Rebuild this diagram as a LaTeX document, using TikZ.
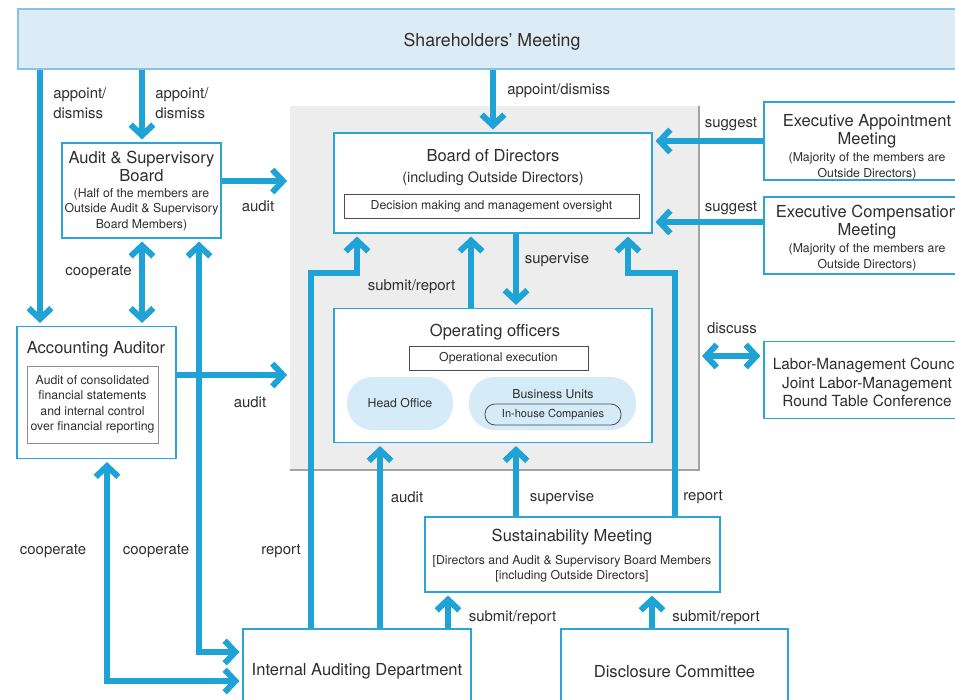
\documentclass[tikz,border=0pt]{standalone}
\usepackage{fontspec}
\setmainfont{TeX Gyre Heros}
\usetikzlibrary{arrows.meta,positioning}

\definecolor{flowblue}{HTML}{1FA3D7}
\definecolor{boxblue}{HTML}{2AA4D9}
\definecolor{shfill}{HTML}{DCEBF6}
\definecolor{shline}{HTML}{86C4E6}
\definecolor{govgray}{HTML}{EDEDED}
\definecolor{govedge}{HTML}{A3A3A3}
\definecolor{txtgray}{HTML}{2E2E2E}
\definecolor{unitfill}{HTML}{D5EBF8}

\newcommand{\fsHead}{\fontsize{13.3}{16}\selectfont}
\newcommand{\fsTitle}{\fontsize{12.4}{13.3}\selectfont}
\newcommand{\fsSub}{\fontsize{10.8}{13}\selectfont}
\newcommand{\fsLabel}{\fontsize{11.2}{15}\selectfont}
\newcommand{\fsLabor}{\fontsize{11.5}{14}\selectfont}
\newcommand{\fsSmall}{\fontsize{9.2}{11.6}\selectfont}
\newcommand{\fsTiny}{\fontsize{8.3}{10}\selectfont}

\tikzset{
  box/.style={draw=boxblue, line width=1.3pt, fill=white, inner sep=0pt, align=center},
  sized/.style 2 args={minimum width=#1*0.75pt, minimum height=#2*0.75pt},
  inbox/.style={draw=black!70, line width=0.6pt, fill=white, inner sep=0pt},
  unit/.style={fill=unitfill, rounded corners=19pt, inner sep=0pt, font=\fsSmall},
  lbl/.style={font=\fsLabel, inner sep=0pt, align=left, yshift=-1.2pt},
  txt/.style={inner sep=0pt, align=center, yshift=-1.2pt},
  barb/.tip={Straight Barb[length=8pt,width=17pt]},
  flow/.style={draw=flowblue, line width=4.5pt, -barb, shorten >=2pt},
  flowboth/.style={flow, barb-barb, shorten <=2pt},
}

\begin{document}
\begin{tikzpicture}[x=0.75pt, y=-0.75pt, every node/.append style={text=txtgray}]
  \useasboundingbox (0,0) rectangle (955,699);
  \clip (0,0) rectangle (955,699);

  % Define nodes
  \node[fill=govgray, sized={409}{364}] (gov) at (494.5,288) {};%
  \draw[govedge, line width=1.2pt] (gov.north east) -- (gov.south east) -- (gov.south west);

  \node[box, fill=shfill, draw=shline, sized={948}{60}] (sh) at (492,39) {};%
  \node[txt, font=\fsHead] (shT) at (492,40) {Shareholders' Meeting};%

  \node[box, sized={159}{95}] (asb) at (141.5,190.5) {};%
  \node[txt, font=\fsTitle] (asbT) at (141.5,165) {Audit \& Supervisory\\Board};%
  \node[txt, font=\fsSmall] (asbS) at (141.5,208) {(Half of the members are\\Outside Audit \& Supervisory\\Board Members)};%

  \node[box, sized={318}{100}] (bod) at (493,183) {};%
  \node[txt, font=\fsTitle] (bodT) at (493,154) {Board of Directors};%
  \node[txt, font=\fsSub] (bodS) at (493,177.5) {(including Outside Directors)};%
  \node[inbox, sized={295}{24}, font=\fsSmall] (dec) at (491.5,206) {Decision making and management oversight};%

  \node[box, sized={318}{134}] (oo) at (493,375.5) {};%
  \node[txt, font=\fsTitle] (ooT) at (495,331) {Operating officers};%
  \node[inbox, sized={179}{24}, font=\fsSmall] (opex) at (498.5,358) {Operational execution};%
  \node[unit, sized={106}{53}] (ho) at (400,403.5) {Head Office};%
  \node[unit, sized={167}{53}] (bu) at (552.5,403.5) {};%
  \node[txt, font=\fsSmall] (buT) at (553,393) {Business Units};%
  \node[inbox, fill=none, rounded corners=7.5pt, sized={136}{21}, font=\fsTiny] (inh) at (553,414.5) {In-house Companies};%

  \node[box, sized={159}{132}] (aa) at (96.5,392.5) {};%
  \node[txt, font=\fsTitle] (aaT) at (96,348) {Accounting Auditor};%
  \node[inbox, draw=black!45, sized={131}{77}, font=\fsSmall, align=center] (aaIn) at (92.5,404.5) {Audit of consolidated\\financial statements\\and internal control\\over financial reporting};%

  \node[box, sized={206}{78}] (eam) at (867,141) {};%
  \node[txt, font=\fsTitle] (eamT) at (867,130) {Executive Appointment\\Meeting};%
  \node[txt, font=\fsSmall] (eamS) at (867,164.5) {(Majority of the members are\\Outside Directors)};%

  \node[box, sized={206}{77}] (ecm) at (867,235.5) {};%
  \node[txt, font=\fsTitle] (ecmT) at (867,220.5) {Executive Compensation\\Meeting};%
  \node[txt, font=\fsSmall] (ecmS) at (867,255.5) {(Majority of the members are\\Outside Directors)};%

  \node[box, sized={206}{77}] (lmc) at (867,380) {};%
  \node[txt, font=\fsLabor] (lmcT) at (867,381) {Labor-Management Council\\Joint Labor-Management\\Round Table Conference};%

  \node[box, sized={295}{75}] (sm) at (572.5,554.5) {};%
  \node[txt, font=\fsTitle] (smT) at (572,536) {Sustainability Meeting};%
  \node[txt, font=\fsSmall] (smS) at (572,567) {[Directors and Audit \& Supervisory Board Members\\{[including Outside Directors]}};%

  \node[box, sized={228}{82}] (iad) at (357,670) {};%
  \node[txt, font=\fsTitle] (iadT) at (357,670) {Internal Auditing Department};%
  \node[box, sized={227}{82}] (dc) at (674.5,670) {};%
  \node[txt, font=\fsTitle] (dcT) at (674.5,670) {Disclosure Committee};%

  % Define edges
  \draw[flow] (sh.south -| 40,0) -- (aa.north -| 40,0);
  \draw[flow] (sh.south -| 142,0) -- (asb.north -| 142,0);
  \draw[flow] (sh.south -| 493,0) -- (bod.north -| 493,0);
  \draw[flow] (asb.east |- 0,181) -- (gov.west |- 0,181);
  \draw[flow] (aa.east |- 0,375) -- (gov.west |- 0,375);
  \draw[flowboth] (asb.south -| 142,0) -- (aa.north -| 142,0);
  \draw[flowboth] (asb.south -| 199,0) |- (iad.west |- 0,652);
  \draw[flowboth] (aa.south -| 107,0) |- (iad.west |- 0,681);
  \draw[flow] (eam.west |- 0,141) -- (bod.east |- 0,141);
  \draw[flow] (ecm.west |- 0,222) -- (bod.east |- 0,222);
  \draw[flowboth] (gov.east |- 0,356) -- (lmc.west |- 0,356);
  \draw[flow] (bod.south -| 516,0) -- (oo.north -| 516,0);
  \draw[flow] (oo.north -| 471,0) -- (bod.south -| 471,0);
  \draw[flow] (iad.north -| 311,0) -- (311,273) -| (bod.south -| 357,0);
  \draw[flow] (sm.north -| 675,0) -- (675,273) -| (bod.south -| 628,0);
  \draw[flow] (iad.north -| 380,0) -- (oo.south -| 380,0);
  \draw[flow] (sm.north -| 516,0) -- (oo.south -| 516,0);
  \draw[flow] (iad.north -| 448,0) -- (sm.south -| 448,0);
  \draw[flow] (dc.north -| 652,0) -- (sm.south -| 652,0);

  % Edge labels
  \node[lbl, anchor=west] (apL) at (53,102) {appoint/\\dismiss};%
  \node[lbl, anchor=west] (apM) at (155,102) {appoint/\\dismiss};%
  \node[lbl, anchor=west] (apT) at (507,89) {appoint/dismiss};%
  \node[lbl] (audA) at (258,205) {audit};%
  \node[lbl] (coopA) at (98.5,271) {cooperate};%
  \node[lbl] (audB) at (250,401) {audit};%
  \node[lbl] (sugA) at (731,123) {suggest};%
  \node[lbl] (sugB) at (731,207) {suggest};%
  \node[lbl] (disc) at (732,327) {discuss};%
  \node[lbl] (supT) at (557,258) {supervise};%
  \node[lbl] (subT) at (411.5,285) {submit/report};%
  \node[lbl] (coopL) at (53,550) {cooperate};%
  \node[lbl] (coopM) at (156,550) {cooperate};%
  \node[lbl] (repL) at (281,550) {report};%
  \node[lbl] (audC) at (407,496) {audit};%
  \node[lbl] (supB) at (562,496) {supervise};%
  \node[lbl] (repR) at (703,496) {report};%
  \node[lbl] (subL) at (512.5,616) {submit/report};%
  \node[lbl] (subR) at (716,616) {submit/report};%
\end{tikzpicture}
\end{document}
